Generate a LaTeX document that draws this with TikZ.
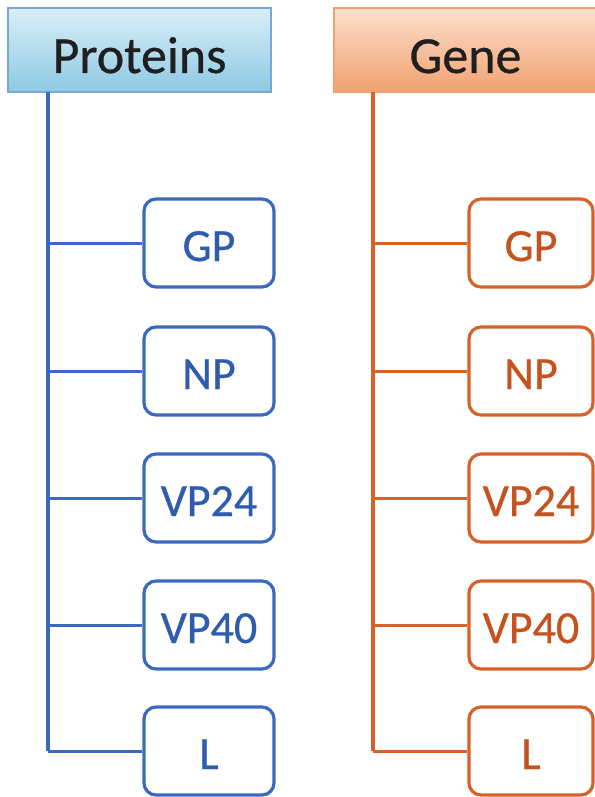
\documentclass[tikz,border=0pt]{standalone}
\usepackage{fontspec}
\setmainfont{Carlito}
\newfontfamily\heavyfont[FakeBold=0.6]{Carlito}
\definecolor{pblue}{HTML}{3C69C0}
\definecolor{ptext}{HTML}{2F5DAE}
\definecolor{gorange}{HTML}{D8612A}
\definecolor{gtext}{HTML}{C4531F}
\definecolor{htop}{HTML}{DAEFF8}
\definecolor{hbot}{HTML}{8DC9E3}
\definecolor{hborder}{HTML}{7AA6D8}
\definecolor{otop}{HTML}{FCDFCC}
\definecolor{obot}{HTML}{F1A271}
\definecolor{oborder}{HTML}{F0A272}
\begin{document}
\begin{tikzpicture}[x=1pt,y=-1pt,
  header/.style={rectangle, minimum width=263pt, minimum height=84pt, inner sep=0pt,
    font=\heavyfont\fontsize{52}{56}\selectfont, text=black!88, text height=46pt, text depth=0pt},
  pheader/.style={header, draw=hborder, line width=1.2pt, top color=htop, bottom color=hbot},
  gheader/.style={header, draw=oborder, line width=1.2pt, top color=otop, bottom color=obot},
  item/.style={rectangle, rounded corners=12pt, minimum width=130pt, minimum height=88pt,
    inner sep=0pt, line width=3.2pt, fill=white, font=\heavyfont\fontsize{46}{50}\selectfont,
    text height=36pt, text depth=0pt},
  pitem/.style={item, draw=pblue, text=ptext},
  gitem/.style={item, draw=gorange, text=gtext, minimum width=124pt},
  ptrunk/.style={draw=pblue, line width=4.5pt},
  gtrunk/.style={draw=gorange, line width=4.5pt},
  pbranch/.style={draw=pblue, line width=3pt},
  gbranch/.style={draw=gorange, line width=3pt}]
\useasboundingbox (0,0) rectangle (594,797);
\fill[white] (0,0) rectangle (594,797);
% headers
\node[pheader] (prot) at (139.5,50) {Proteins};
\node[gheader] (gene) at (465.5,50) {Gene};
% left column
\coordinate (ptop) at (48,92);
\coordinate (pbot) at (48,751);
\node[pitem] (pgp)  at (209,243) {GP};
\node[pitem] (pnp)  at (209,371) {NP};
\node[pitem] (pv24) at (209,498) {VP24};
\node[pitem] (pv40) at (209,625) {VP40};
\node[pitem] (pl)   at (209,751) {L};
\draw[ptrunk] (ptop) -- (pbot);
\foreach \n in {pgp,pnp,pv24,pv40,pl}{
  \draw[pbranch] (\n.west -| ptop) -- (\n.west);
}
% right column
\coordinate (gtop) at (373,92);
\coordinate (gbot) at (373,751);
\node[gitem] (ggp)  at (531,243) {GP};
\node[gitem] (gnp)  at (531,371) {NP};
\node[gitem] (gv24) at (531,498) {VP24};
\node[gitem] (gv40) at (531,625) {VP40};
\node[gitem] (gl)   at (531,751) {L};
\draw[gtrunk] (gtop) -- (gbot);
\foreach \n in {ggp,gnp,gv24,gv40,gl}{
  \draw[gbranch] (\n.west -| gtop) -- (\n.west);
}
\end{tikzpicture}
\end{document}
